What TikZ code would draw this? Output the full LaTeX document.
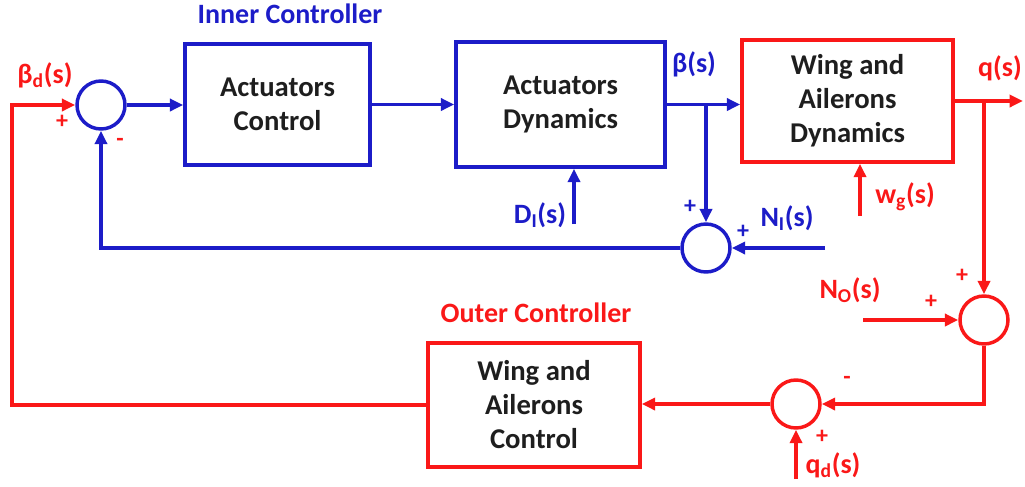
\documentclass[tikz,border=0pt]{standalone}
\usepackage{fontspec}
\setmainfont{Carlito}
\usetikzlibrary{arrows.meta}
\definecolor{cblue}{RGB}{28,28,200}
\definecolor{cred}{RGB}{250,24,24}
\definecolor{ctext}{RGB}{30,30,30}
\begin{document}
\begin{tikzpicture}[x=0.75pt,y=-0.75pt,
  arr/.style={line width=2.6pt,-{Triangle[length=10pt,width=9pt]}},
  blk/.style={line width=2.6pt,align=center,text=ctext,
    font=\fontsize{21.5}{25.5}\selectfont\bfseries,inner sep=0pt},
  sumc/.style={circle,line width=2.6pt,minimum size=36pt,inner sep=0pt},
  lbl/.style={font=\fontsize{21}{24}\selectfont\bfseries,inner sep=0pt},
  sgn/.style={font=\fontsize{18}{20}\selectfont\bfseries,inner sep=0pt}]
\useasboundingbox (0,0) rectangle (1025,486);
% blocks
\node[blk,draw=cblue,minimum width={185*0.75pt},minimum height={121*0.75pt}] (b1) at (277.5,104.5) {Actuators\\Control};
\node[blk,draw=cblue,minimum width={209*0.75pt},minimum height={125*0.75pt}] (b2) at (560.5,104.5) {Actuators\\Dynamics};
\node[blk,draw=cred,minimum width={211*0.75pt},minimum height={122*0.75pt}] (b3) at (847.5,101) {Wing and\\Ailerons\\Dynamics};
\node[blk,draw=cred,minimum width={212*0.75pt},minimum height={124*0.75pt}] (b4) at (534,405) {Wing and\\Ailerons\\Control};
% summing junctions
\node[sumc,draw=cblue] (s1) at (101,105) {};
\node[sumc,draw=cblue] (s2) at (706,248) {};
\node[sumc,draw=cred] (s3) at (984,320) {};
\node[sumc,draw=cred] (s4) at (796,404) {};
% free ends
\coordinate (di) at (574,224);
\coordinate (ni) at (825,248);
\coordinate (qout) at (1023,100);
\coordinate (wg) at (860,216);
\coordinate (no) at (863,320);
\coordinate (qd) at (796,479);
\coordinate (lc) at (12,405);
% blue connectors
\draw[arr,cblue] (s1.east) -- (s1.east -| b1.west);
\draw[arr,cblue] (b1.east) -- (b1.east -| b2.west);
\draw[arr,cblue] (b2.east) -- (b2.east -| b3.west);
\draw[arr,cblue] (b2.east -| s2.north) -- (s2.north);
\draw[arr,cblue] (s2.west) -| (s1.south);
\draw[arr,cblue] (ni) -- (s2.east);
\draw[arr,cblue] (di) -- (di |- b2.south);
% red connectors
\draw[arr,cred] (b3.east) -- (b3.east -| qout);
\draw[arr,cred] (b3.east -| s3.north) -- (s3.north);
\draw[arr,cred] (wg) -- (wg |- b3.south);
\draw[arr,cred] (no) -- (s3.west);
\draw[arr,cred] (s3.south) |- (s4.east);
\draw[arr,cred] (qd) -- (s4.south);
\draw[arr,cred] (s4.west) -- (s4.west -| b4.east);
\draw[arr,cred] (b4.west) -- (lc) |- (s1.west);
% labels
\node[lbl,cblue] (tin) at (290,14) {Inner Controller};
\node[lbl,cred] (tout) at (536,313) {Outer Controller};
\node[lbl,cred] (lbd) at (45,75) {β\textsubscript{d}(s)};
\node[lbl,cblue] (lb) at (694,64) {β(s)};
\node[lbl,cred] (lq) at (1000,68) {q(s)};
\node[lbl,cblue] (ldi) at (540,215) {D\textsubscript{I}(s)};
\node[lbl,cblue] (lni) at (787,218) {N\textsubscript{I}(s)};
\node[lbl,cred] (lwg) at (905,197) {w\textsubscript{g}(s)};
\node[lbl,cred] (lno) at (850,290) {N\textsubscript{O}(s)};
\node[lbl,cred] (lqd) at (833,465) {q\textsubscript{d}(s)};
% signs
\node[sgn,cred] (p1) at (62,122) {+};
\node[sgn,cred] (m1) at (120,142) {-};
\node[sgn,cblue] (p2) at (690,207) {+};
\node[sgn,cblue] (p3) at (743,232) {+};
\node[sgn,cred] (p4) at (962,276) {+};
\node[sgn,cred] (p5) at (931,302) {+};
\node[sgn,cred] (m4) at (847,380) {-};
\node[sgn,cred] (p6) at (822,437) {+};
\end{tikzpicture}
\end{document}
